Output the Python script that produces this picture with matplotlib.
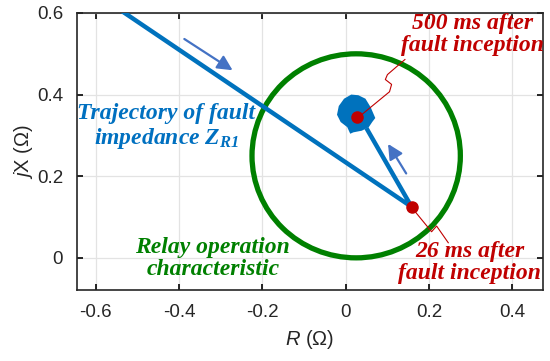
import matplotlib
matplotlib.use("Agg")
import matplotlib.pyplot as plt
from matplotlib.patches import Circle, Polygon
import numpy as np

plt.rcParams["mathtext.fontset"] = "custom"
plt.rcParams["mathtext.rm"] = "Liberation Sans"
plt.rcParams["mathtext.it"] = "Liberation Sans:italic"
plt.rcParams["mathtext.bf"] = "Liberation Serif:bold"
plt.rcParams["mathtext.bfit"] = "Liberation Serif:italic:bold"
plt.rcParams["font.family"] = ["Liberation Sans", "DejaVu Sans"]

# ---- data ----
# main trajectory of fault impedance (R, X) in ohm
traj_R = [-0.545, 0.158, 0.0495]
traj_X = [0.61, 0.125, 0.318]
# settled oscillation cluster near 500 ms
blob_R = [0.0137, 0.0295, 0.0455, 0.0575, 0.068, 0.0616, 0.0534, 0.0376,
          0.0175, 0.012, 0.0055, -0.0103, -0.0184, -0.0144, -0.0024]
blob_X = [0.3975, 0.396, 0.388, 0.368, 0.343, 0.3345, 0.322, 0.314,
          0.310, 0.3075, 0.322, 0.3345, 0.351, 0.371, 0.388]
# key points
pt26_R, pt26_X = 0.158, 0.125
pt500_R, pt500_X = 0.026, 0.344
# relay mho characteristic
circ_center = (0.025, 0.25)
circ_radius = 0.25

xticks = [-0.6, -0.4, -0.2, 0, 0.2, 0.4]
xticklabels = ["-0.6", "-0.4", "-0.2", "0", "0.2", "0.4"]
yticks = [0, 0.2, 0.4, 0.6]
yticklabels = ["0", "0.2", "0.4", "0.6"]

BLUE = "#0072BD"
TBLUE = "#0070C0"
GREEN = "#008000"
RED = "#C00000"
ARROW = "#4472C4"

fig = plt.figure(figsize=(5.5, 3.61), dpi=100)
ax = fig.add_axes([0.14, 0.197, 0.847, 0.767])
ax.set_xlim(-0.645, 0.473)
ax.set_ylim(-0.0785, 0.6)

ax.grid(True, color="#E3E3E3", linewidth=0.9, zorder=0)
ax.set_axisbelow(True)

# trajectory
ax.plot(traj_R, traj_X, color=BLUE, linewidth=3.2, solid_capstyle="butt", zorder=3)
ax.add_patch(Polygon(np.column_stack([blob_R, blob_X]), closed=True,
                     facecolor=BLUE, edgecolor=BLUE, linewidth=1.5, zorder=3))

# relay characteristic
ax.add_patch(Circle(circ_center, circ_radius, fill=False, edgecolor=GREEN,
                    linewidth=3.8, zorder=2))

# key points
ax.plot([pt26_R], [pt26_X], "o", color=RED, markersize=8, zorder=5)
ax.plot([pt500_R], [pt500_X], "o", color=RED, markersize=8, zorder=5)

# direction arrows
ax.annotate("", xy=(-0.266, 0.456), xytext=(-0.393, 0.54),
            arrowprops=dict(arrowstyle="-|>,head_length=0.9,head_width=0.45",
                            color=ARROW, lw=1.6), zorder=4)
ax.annotate("", xy=(0.098, 0.285), xytext=(0.1485, 0.201),
            arrowprops=dict(arrowstyle="-|>,head_length=0.9,head_width=0.45",
                            color=ARROW, lw=1.6), zorder=4)

# leader lines (thin red squiggles)
lead500_R = [0.030, 0.105, 0.110, 0.095, 0.100, 0.142]
lead500_X = [0.344, 0.407, 0.425, 0.437, 0.449, 0.486]
ax.plot(lead500_R, lead500_X, color=RED, linewidth=0.8, zorder=4)
lead26_R = [0.165, 0.206, 0.218, 0.246]
lead26_X = [0.115, 0.064, 0.078, 0.037]
ax.plot(lead26_R, lead26_X, color=RED, linewidth=0.8, zorder=4)

tfont = dict(family="Liberation Serif", weight="bold", style="italic",
             fontsize=17, ha="center", va="center", linespacing=1.08)
ax.text(0.304, 0.547, "500 ms after\nfault inception", color=RED, zorder=6, **tfont)
ax.text(0.297, -0.012, "26 ms after\nfault inception", color=RED, zorder=6, **tfont)
ax.text(-0.431, 0.321, "Trajectory of fault\nimpedance $\\mathbfit{Z}_{\\mathbfit{R1}}$",
        color=TBLUE, zorder=6, **tfont)
ax.text(-0.319, -0.002, "Relay operation\ncharacteristic", color=GREEN, zorder=6, **tfont)

ax.set_xticks(xticks)
ax.set_xticklabels(xticklabels)
ax.set_yticks(yticks)
ax.set_yticklabels(yticklabels)
ax.tick_params(direction="in", length=4, width=1.2, top=True, right=True,
               labelsize=13.5, labelcolor="#262626", pad=10)
for s in ax.spines.values():
    s.set_linewidth(1.2)
    s.set_color("#262626")

ax.set_xlabel("$R$ ($\\Omega$)", fontsize=14.5, color="#262626", labelpad=5)
ax.set_ylabel("$j$X ($\\Omega$)", fontsize=14.5, color="#262626", labelpad=1)

fig.savefig("out.png", dpi=100)
